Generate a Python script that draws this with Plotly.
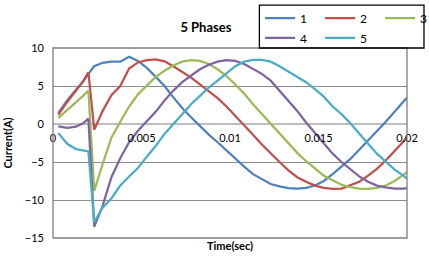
import plotly.graph_objects as go

# time (s)
t = [0.0003, 0.0008, 0.0013, 0.0017, 0.0020, 0.00233, 0.0028, 0.0033, 0.0038, 0.0043,
     0.0048, 0.0053, 0.0058, 0.0063, 0.0068, 0.0073, 0.0078, 0.0083, 0.0088, 0.0093,
     0.0098, 0.0103, 0.0108, 0.0113, 0.0118, 0.0123, 0.0128, 0.0133, 0.0138, 0.0143,
     0.0148, 0.0153, 0.0158, 0.0163, 0.0168, 0.0173, 0.0178, 0.0183, 0.0188, 0.0193,
     0.0198, 0.0200]

phase1 = [1.45, 3.1, 4.5, 5.6, 6.6, 7.6, 8.05, 8.2, 8.2, 8.85,
          8.3, 7.4, 6.2, 5.0, 3.5, 2.1, 0.9, -0.3, -1.4, -2.4,
          -3.5, -4.6, -5.6, -6.6, -7.3, -7.9, -8.2, -8.45, -8.5, -8.4,
          -8.1, -7.5, -6.6, -5.6, -4.6, -3.4, -2.2, -1.0, 0.3, 1.6,
          2.9, 3.5]
phase2 = [1.2, 2.9, 4.4, 5.6, 6.8, -0.75, 1.7, 3.8, 5.0, 7.3,
          8.1, 8.4, 8.5, 8.25, 7.6, 6.9, 6.1, 5.2, 4.3, 3.4,
          2.3, 1.1, -0.1, -1.4, -2.7, -3.9, -5.0, -6.1, -7.0, -7.6,
          -8.1, -8.4, -8.55, -8.5, -8.1, -7.6, -6.8, -5.9, -4.8, -3.6,
          -2.3, -1.7]
phase3 = [0.8, 1.8, 2.8, 3.7, 4.4, -8.8, -5.3, -1.8, 0.3, 2.3,
          3.9, 5.1, 6.2, 7.0, 7.7, 8.2, 8.4, 8.3, 7.9, 7.2,
          6.3, 5.2, 4.0, 2.6, 1.3, 0.0, -1.3, -2.6, -3.8, -4.9,
          -5.9, -6.8, -7.4, -8.0, -8.3, -8.5, -8.55, -8.4, -8.1, -7.5,
          -6.7, -6.3]
phase4 = [-0.3, -0.5, -0.35, 0.1, 0.7, -13.5, -10.8, -7.0, -4.5, -2.4,
          -0.9, 0.3, 1.6, 3.1, 4.4, 5.5, 6.4, 7.2, 7.8, 8.2,
          8.4, 8.3, 7.9, 7.3, 6.6, 5.7, 4.4, 3.1, 1.7, 0.2,
          -1.2, -2.6, -3.9, -5.0, -6.0, -6.9, -7.6, -8.1, -8.35, -8.5,
          -8.5, -8.45]
phase5 = [-1.2, -2.6, -3.3, -3.5, -3.6, -12.9, -11.0, -9.8, -8.1, -6.9,
          -5.8, -4.3, -2.9, -1.3, 0.0, 1.4, 2.6, 3.7, 4.8, 5.7,
          6.6, 7.6, 8.2, 8.45, 8.45, 8.2, 7.6, 6.9, 6.2, 5.5,
          4.6, 3.6, 2.3, 1.3, 0.1, -1.3, -2.6, -3.9, -5.0, -6.0,
          -6.8, -7.2]

names = ["1", "2", "3", "4", "5"]
series = [phase1, phase2, phase3, phase4, phase5]
colors = ["#4F81BD", "#C0504D", "#9BBB59", "#8064A2", "#4BACC6"]
legend_ids = ["legend", "legend", "legend", "legend2", "legend2"]

x_tick_vals = [0, 0.005, 0.01, 0.015, 0.02]
x_tick_text = ["0", "0.005", "0.01", "0.015", "0.02"]
y_tick_vals = [-15, -10, -5, 0, 5, 10]

FONT = "Lato, 'Liberation Sans', Arial, sans-serif"

fig = go.Figure()
for name, vals, col, lg in zip(names, series, colors, legend_ids):
    fig.add_trace(go.Scatter(x=t, y=vals, mode="lines", name=name,
                             line=dict(color=col, width=2.25), legend=lg))

leg_common = dict(orientation="h", xanchor="left", yanchor="top",
                  entrywidth=15, font=dict(size=12), bgcolor="rgba(0,0,0,0)",
                  borderwidth=0, itemwidth=30)

fig.update_layout(
    width=429, height=257,
    margin=dict(l=53, r=22, t=48, b=19, autoexpand=False),
    paper_bgcolor="white", plot_bgcolor="white",
    font=dict(family=FONT, size=11, color="black"),
    title=dict(text="<b>5 Phases</b>", x=0.48, xanchor="center",
               y=0.895, yanchor="middle", font=dict(size=13, family=FONT)),
    xaxis=dict(range=[0, 0.02], tickvals=x_tick_vals, ticktext=x_tick_text,
               showgrid=False, zeroline=False, showline=False, ticks="",
               anchor="free", position=0.6, ticklabelstandoff=6,
               automargin=False, tickfont=dict(size=11)),
    yaxis=dict(range=[-15, 10], tickvals=y_tick_vals, showgrid=True,
               gridcolor="#8C8C8C", gridwidth=1, zeroline=True,
               zerolinecolor="#BEBEBE", zerolinewidth=2, showline=False,
               ticks="", ticklabelstandoff=8, automargin=False,
               title=dict(text="<b>Current(A)</b>", standoff=10,
                          font=dict(size=11))),
    legend=dict(x=0.585, y=1.234, **leg_common),
    legend2=dict(x=0.585, y=1.129, **leg_common),
    showlegend=True,
)

# plot area border and legend box
fig.add_shape(type="rect", xref="paper", yref="paper", x0=0, x1=1, y0=0, y1=1,
              line=dict(color="#7F7F7F", width=1.3), layer="above")
fig.add_shape(type="rect", xref="paper", yref="paper", x0=0.583, x1=1.048,
              y0=1.0, y1=1.226, line=dict(color="black", width=1.3),
              layer="above")

fig.add_annotation(text="<b>Time(sec)</b>", xref="paper", yref="paper",
                   x=0.5, y=-0.042, yanchor="middle", showarrow=False,
                   font=dict(size=11, family=FONT))

fig.write_html("out.html")
